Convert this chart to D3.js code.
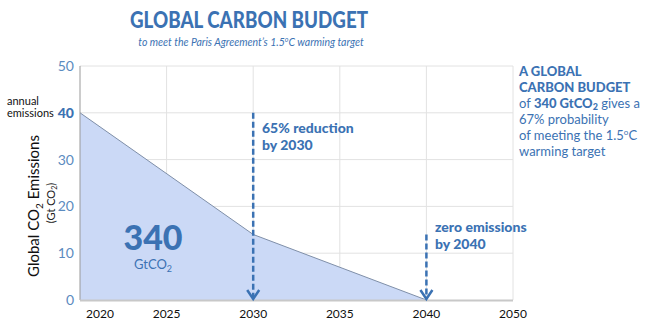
<!DOCTYPE html>
<html>
<head>
<meta charset="utf-8">
<script src="https://cdn.jsdelivr.net/npm/d3@7"></script>
<style>
body{margin:0;background:#fff;}
text{font-family:Lato,"Open Sans",sans-serif;}
</style>
</head>
<body>
<script>
var years = [2020, 2030, 2040];
var emissions = [40, 14, 0];
var gridYears = [2020, 2025, 2030, 2035, 2040, 2045];
var xTickLabels = ["2020", "2025", "2030", "2035", "2040", "2050"];
var yTicks = [0, 10, 20, 30, 40, 50];
var budget = "340";

var blue = "#3b72b3";
var tickBlue = "#5b8bc0";

var svg = d3.select("body").append("svg").attr("width", 653).attr("height", 331);

var x = d3.scaleLinear().domain([2020, 2045]).range([80, 513]);
var y = d3.scaleLinear().domain([0, 50]).range([300, 66]);

// titles
svg.append("text").attr("x", 249).attr("y", 28).attr("text-anchor", "middle")
    .attr("font-size", 22).attr("font-weight", 900).attr("fill", blue)
    .attr("textLength", 238).attr("lengthAdjust", "spacingAndGlyphs")
    .text("GLOBAL CARBON BUDGET");
var sub = svg.append("text").attr("x", 251).attr("y", 46).attr("text-anchor", "middle")
    .attr("font-size", 10.5).attr("font-style", "italic").attr("fill", blue);
sub.append("tspan").text("to meet the Paris Agreement\u2019s 1.5");
sub.append("tspan").attr("font-size", 7).attr("dy", -4).text("o");
sub.append("tspan").attr("dy", 4).text("C warming target");

// grid
svg.selectAll("line.hgrid").data(yTicks.slice(1)).enter().append("line")
    .attr("class", "hgrid")
    .attr("x1", 80).attr("x2", 513)
    .attr("y1", function(d){return y(d);}).attr("y2", function(d){return y(d);})
    .attr("stroke", "#e2e2e2").attr("stroke-width", 1);
svg.selectAll("line.vgrid").data(gridYears.slice(1)).enter().append("line")
    .attr("class", "vgrid")
    .attr("x1", function(d){return x(d);}).attr("x2", function(d){return x(d);})
    .attr("y1", 66).attr("y2", 300)
    .attr("stroke", "#e2e2e2").attr("stroke-width", 1);

// area
var pts = years.map(function(d, i){return [d, emissions[i]];});
svg.append("path").datum(pts)
    .attr("d", d3.area().x(function(d){return x(d[0]);}).y0(y(0)).y1(function(d){return y(d[1]);}))
    .attr("fill", "#cbd9f6");
svg.append("path").datum(pts)
    .attr("d", d3.line().x(function(d){return x(d[0]);}).y(function(d){return y(d[1]);}))
    .attr("fill", "none").attr("stroke", "#7f8fa8").attr("stroke-width", 1);

// axes lines
svg.append("line").attr("x1", 80).attr("x2", 80).attr("y1", 66).attr("y2", 300)
    .attr("stroke", "#999").attr("stroke-width", 1);
svg.append("line").attr("x1", 80).attr("x2", 513).attr("y1", 300.5).attr("y2", 300.5)
    .attr("stroke", "#c8c8c8").attr("stroke-width", 2);

// y tick labels
svg.selectAll("text.ytick").data(yTicks).enter().append("text")
    .attr("class", "ytick")
    .attr("x", 74).attr("y", function(d){return y(d) + 5;})
    .attr("text-anchor", "end").attr("font-size", 14)
    .attr("font-weight", function(d){return d === 40 ? 900 : 400;})
    .attr("fill", function(d){return d === 40 ? blue : tickBlue;})
    .text(function(d){return d;});

// x tick labels
svg.selectAll("text.xtick").data(gridYears).enter().append("text")
    .attr("class", "xtick")
    .attr("x", function(d, i){return i === 0 ? x(d) + 20 : x(d);})
    .attr("y", 318).attr("text-anchor", "middle").attr("font-size", 12).attr("fill", "#111")
    .text(function(d, i){return xTickLabels[i];});

// y axis title
var yt = svg.append("text").attr("transform", "translate(39,206) rotate(-90)")
    .attr("text-anchor", "middle").attr("font-size", 15).attr("fill", "#111");
yt.append("tspan").text("Global CO");
yt.append("tspan").attr("font-size", 10).attr("dy", 4).text("2");
yt.append("tspan").attr("dy", -4).text(" Emissions");
var yt2 = svg.append("text").attr("transform", "translate(55,203) rotate(-90)")
    .attr("text-anchor", "middle").attr("font-size", 11).attr("fill", "#222");
yt2.append("tspan").text("(Gt CO");
yt2.append("tspan").attr("font-size", 7).attr("dy", 2).text("2");
yt2.append("tspan").attr("dy", -2).text(")");

svg.append("text").attr("x", 7).attr("y", 105).attr("font-size", 11).attr("fill", "#111").text("annual");
svg.append("text").attr("x", 7).attr("y", 117).attr("font-size", 11).attr("fill", "#111").text("emissions");

// arrows
function arrow(yr, top) {
    var cx = x(yr);
    svg.append("line").attr("x1", cx).attr("x2", cx).attr("y1", y(top)).attr("y2", y(0) - 3)
        .attr("stroke", blue).attr("stroke-width", 2.5).attr("stroke-dasharray", "6,3");
    svg.append("path")
        .attr("d", "M" + (cx - 6) + "," + (y(0) - 10) + "L" + cx + "," + (y(0) - 1) + "L" + (cx + 6) + "," + (y(0) - 10))
        .attr("fill", "none").attr("stroke", blue).attr("stroke-width", 2.5);
}
arrow(2030, 40);
arrow(2040, 14);

svg.append("text").attr("x", 262).attr("y", 133).attr("font-size", 14).attr("font-weight", 900)
    .attr("fill", blue).text("65% reduction");
svg.append("text").attr("x", 262).attr("y", 150).attr("font-size", 14).attr("font-weight", 900)
    .attr("fill", blue).text("by 2030");
svg.append("text").attr("x", 435).attr("y", 232).attr("font-size", 14).attr("font-weight", 900)
    .attr("fill", blue).text("zero emissions");
svg.append("text").attr("x", 435).attr("y", 249).attr("font-size", 14).attr("font-weight", 900)
    .attr("fill", blue).text("by 2040");

// budget label
svg.append("text").attr("x", 153).attr("y", 250).attr("text-anchor", "middle")
    .attr("font-size", 34).attr("font-weight", 900).attr("fill", blue).text(budget);
var gt = svg.append("text").attr("x", 153).attr("y", 269).attr("text-anchor", "middle")
    .attr("font-size", 13).attr("fill", blue);
gt.append("tspan").text("GtCO");
gt.append("tspan").attr("font-size", 9).attr("dy", 3).text("2");

// side note
var nx = 519;
svg.append("text").attr("x", nx).attr("y", 76).attr("font-size", 13).attr("font-weight", 900)
    .attr("fill", blue).text("A GLOBAL");
svg.append("text").attr("x", nx).attr("y", 92).attr("font-size", 13).attr("font-weight", 900)
    .attr("fill", blue).text("CARBON BUDGET");
var l3 = svg.append("text").attr("x", nx).attr("y", 108).attr("font-size", 13).attr("fill", blue);
l3.append("tspan").text("of ");
l3.append("tspan").attr("font-weight", 900).text("340 GtCO");
l3.append("tspan").attr("font-weight", 900).attr("font-size", 9).attr("dy", 2).text("2");
l3.append("tspan").attr("dy", -2).text(" gives a");
svg.append("text").attr("x", nx).attr("y", 124).attr("font-size", 13).attr("fill", blue).text("67% probability");
var l5 = svg.append("text").attr("x", nx).attr("y", 140).attr("font-size", 13).attr("fill", blue);
l5.append("tspan").text("of meeting the 1.5");
l5.append("tspan").attr("font-size", 8).attr("dy", -5).text("o");
l5.append("tspan").attr("dy", 5).text("C");
svg.append("text").attr("x", nx).attr("y", 156).attr("font-size", 13).attr("fill", blue).text("warming target");
</script>
</body>
</html>
